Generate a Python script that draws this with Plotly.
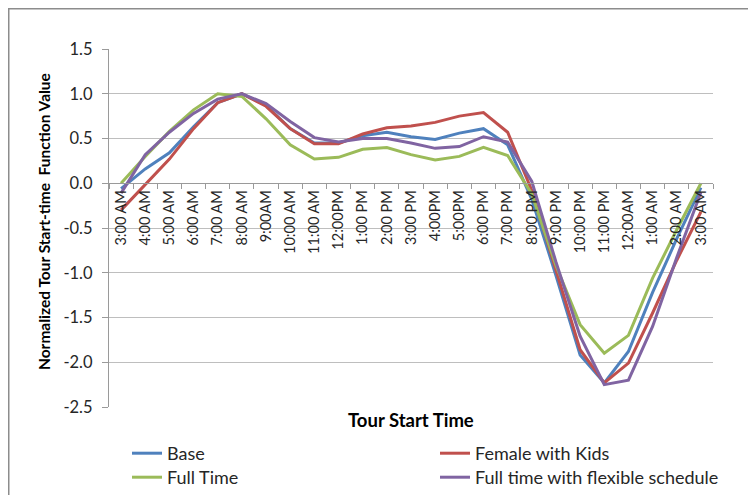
import plotly.graph_objects as go

# ---------------- data ----------------
hour_labels = ["3:00 AM", "4:00 AM", "5:00 AM", "6:00 AM", "7:00 AM", "8:00 AM",
               "9:00AM", "10:00 AM", "11:00 AM", "12:00PM", "1:00 PM", "2:00 PM",
               "3:00 PM", "4:00PM", "5:00PM", "6:00 PM", "7:00 PM", "8:00 PM",
               "9:00 PM", "10:00 PM", "11:00 PM", "12:00AM", "1:00 AM", "2:00 AM",
               "3:00 AM"]

base = [-0.06, 0.16, 0.34, 0.63, 0.90, 1.00, 0.87, 0.61, 0.45, 0.45, 0.53, 0.57,
        0.52, 0.49, 0.56, 0.61, 0.43, -0.18, -1.03, -1.92, -2.23, -1.88, -1.22,
        -0.62, -0.05]
female_kids = [-0.30, -0.02, 0.27, 0.61, 0.90, 1.00, 0.86, 0.61, 0.44, 0.44, 0.55,
               0.62, 0.64, 0.68, 0.75, 0.79, 0.57, -0.08, -0.97, -1.86, -2.23,
               -2.01, -1.45, -0.86, -0.32]
full_time = [0.00, 0.30, 0.58, 0.82, 1.00, 0.97, 0.72, 0.43, 0.27, 0.29, 0.38, 0.40,
             0.32, 0.26, 0.30, 0.40, 0.31, -0.12, -0.92, -1.58, -1.90, -1.70, -1.06,
             -0.52, 0.00]
full_time_flex = [-0.11, 0.32, 0.57, 0.78, 0.94, 1.00, 0.89, 0.69, 0.51, 0.46, 0.50,
                  0.50, 0.45, 0.39, 0.41, 0.52, 0.46, 0.02, -0.88, -1.71, -2.25,
                  -2.20, -1.60, -0.83, -0.10]

series_names = ["Base", "Female with Kids", "Full Time", "Full time with flexible schedule"]
y_ticks = [1.5, 1.0, 0.5, 0.0, -0.5, -1.0, -1.5, -2.0, -2.5]
y_tick_labels = ["1.5", "1.0", "0.5", "0.0", "-0.5", "-1.0", "-1.5", "-2.0", "-2.5"]

# ---------------- style ----------------
FONT = "Lato"
TXT = "#262626"
GRID = "#BEBEBE"
AXIS = "#9A9A9A"
colors = ["#4F81BD", "#C0504D", "#9BBB59", "#8064A2"]

OFF = 8  # page body margin
W, H = 740, 487
# plot area in screen pixels: x 109..713, y 49..407
L = 109 - OFF
T = 49 - OFF
R = W - (713 - OFF)
B = H - (407 - OFF)
PW, PH = W - L - R, H - T - B


def px_x(sx):
    return (sx - OFF - L) / PW


def px_y(sy):
    return (H - B - (sy - OFF)) / PH


x_keys = [str(i) for i in range(len(hour_labels))]

fig = go.Figure()
data = [base, female_kids, full_time, full_time_flex]
legend_ids = ["legend", "legend2", "legend3", "legend4"]
for name, vals, col, lg in zip(series_names, data, colors, legend_ids):
    fig.add_trace(go.Scatter(
        x=x_keys, y=vals, mode="lines", name=name,
        line=dict(color=col, width=3),
        legend=lg,
    ))

ymin, ymax = -2.5, 1.5
zero_pos = (0 - ymin) / (ymax - ymin)

# legend placement (screen px): two columns, two rows
leg_x = [127, 435, 127, 435]
leg_top = [435, 435, 459, 459]
legend_layout = {}
for lg, lx, ly in zip(legend_ids, leg_x, leg_top):
    legend_layout[lg] = dict(
        x=px_x(lx), y=px_y(ly), xanchor="left", yanchor="top",
        orientation="v", font=dict(size=18, family=FONT, color=TXT),
        bgcolor="rgba(0,0,0,0)", itemwidth=30,
    )

fig.update_layout(
    width=W, height=H,
    margin=dict(l=L, r=R, t=T, b=B, autoexpand=False),
    paper_bgcolor="white", plot_bgcolor="white",
    font=dict(family=FONT, color=TXT, size=17),
    xaxis=dict(
        type="category",
        tickmode="array", tickvals=x_keys, ticktext=hour_labels,
        tickangle=-90,
        tickfont=dict(size=14.5, family=FONT, color=TXT),
        anchor="free", position=zero_pos,
        showline=True, linecolor=AXIS, linewidth=1.3,
        ticks="outside", ticklen=5, tickcolor=AXIS, tickwidth=1.3,
        tickson="boundaries",
        showgrid=False, zeroline=False,
        range=[-0.5, len(hour_labels) - 0.5],
    ),
    yaxis=dict(
        range=[ymin, ymax],
        tickmode="array", tickvals=y_ticks, ticktext=y_tick_labels,
        tickfont=dict(size=16.5, family=FONT, color=TXT),
        showline=True, linecolor=AXIS, linewidth=1.3,
        ticks="outside", ticklen=6, tickcolor=AXIS, tickwidth=1.3,
        ticklabelstandoff=6,
        showgrid=True, gridcolor=GRID, gridwidth=1.3,
        zeroline=False,
    ),
    showlegend=True,
    **legend_layout,
)

# axis titles
fig.add_annotation(
    text="<b>Tour Start Time</b>", x=px_x(410.5), y=px_y(420),
    xref="paper", yref="paper", xanchor="center", yanchor="middle",
    showarrow=False, font=dict(size=18.5, family=FONT, color="#000000"),
)
fig.add_annotation(
    text="<b>Normalized Tour Start-time  Function Value</b>",
    x=px_x(44), y=px_y(222), xref="paper", yref="paper",
    xanchor="center", yanchor="middle", textangle=-90,
    showarrow=False, font=dict(size=15.5, family=FONT, color="#000000"),
)

# chart-area border: left and top edges (right/bottom fall outside the view)
fig.add_shape(
    type="line", xref="paper", yref="paper",
    x0=px_x(OFF + 0.75), x1=px_x(OFF + 0.75),
    y0=px_y(OFF + H), y1=px_y(OFF + 0.75),
    line=dict(color="#8C8C8C", width=1.5), layer="below",
)
fig.add_shape(
    type="line", xref="paper", yref="paper",
    x0=px_x(OFF), x1=px_x(OFF + W),
    y0=px_y(OFF + 0.75), y1=px_y(OFF + 0.75),
    line=dict(color="#8C8C8C", width=1.5), layer="below",
)

fig.write_html("out.html")
